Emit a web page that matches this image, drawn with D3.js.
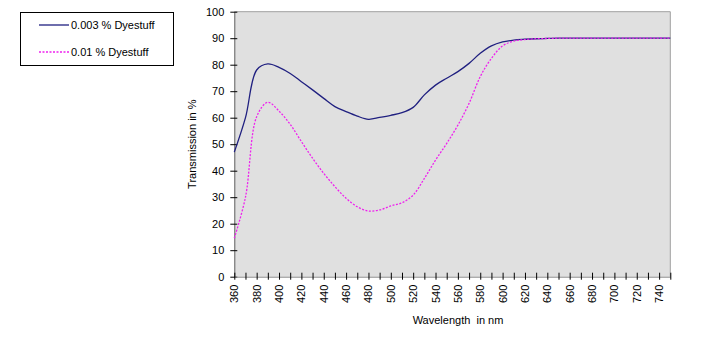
<!DOCTYPE html>
<html><head><meta charset="utf-8">
<script src="https://cdn.jsdelivr.net/npm/d3@7/dist/d3.min.js"></script>
<style>body{margin:0;background:#fff}svg{display:block;font-family:"Liberation Sans",Arial,sans-serif}</style>
</head><body><svg id="c" width="722" height="341"></svg>
<script>
const wavelengths = [360,370,380,390,400,410,420,430,440,450,460,470,480,490,500,510,520,530,540,550,560,570,580,590,600,610,620,630,640,650,660,670,680,690,700,710,720,730,740,750];
const dye003 = [47,60,78,80.3,79,76.7,73.6,70.5,67.3,64.2,62.3,60.6,59.4,60.1,60.9,61.9,63.9,68.6,72.3,74.9,77.4,80.5,84.3,87.1,88.6,89.3,89.6,89.8,89.9,90,90,90,90,90,90,90,90,90,90,90];
const dye001 = [14.5,30,60.4,65.8,62.5,57.5,51,44.7,39,34,29.6,26.4,24.8,25.2,26.7,27.9,30.8,37.1,44,50.3,57.2,65.4,75.5,82.4,87.1,88.9,89.5,89.8,89.9,90,90,90,90,90,90,90,90,90,90,90];
const seriesNames = ["0.003 % Dyestuff","0.01 % Dyestuff"];
const xTickLabels = [360,380,400,420,440,460,480,500,520,540,560,580,600,620,640,660,680,700,720,740];
const yTicks = [0,10,20,30,40,50,60,70,80,90,100];

const svg = d3.select("#c");
const L=234.3, R=670.3, T=11.7, B=276.7;
const x = d3.scaleLinear().domain([360,750]).range([L,R]);
const y = d3.scaleLinear().domain([0,100]).range([B,T]);

svg.append("rect").attr("x",L).attr("y",T).attr("width",R-L).attr("height",B-T).attr("fill","#e0e0e0");
svg.append("path").attr("d",`M${L},${T}H${R}V${B}`).attr("fill","none").attr("stroke","#a0a0a0").attr("stroke-width",1);

// y axis
const ya = svg.append("g").attr("transform",`translate(${L},0)`)
  .call(d3.axisLeft(y).tickValues(yTicks).tickSize(0).tickPadding(10).tickFormat(d3.format("d")));
ya.select(".domain").attr("stroke","#606060");
ya.selectAll("text").attr("font-size",11).attr("fill","#000").attr("font-family","Liberation Sans, Arial, sans-serif");
ya.selectAll(".tick").append("line").attr("x1",-4).attr("x2",3).attr("stroke","#000");

// x axis
const minorTicks = d3.range(360,751,10);
const xa = svg.append("g").attr("transform",`translate(0,${B})`)
  .call(d3.axisBottom(x).tickValues(minorTicks).tickSize(0).tickFormat(""));
xa.select(".domain").attr("stroke","#888");
xa.selectAll(".tick").append("line").attr("y1",-4).attr("y2",3).attr("stroke","#000");
const xl = svg.append("g");
xl.selectAll("text").data(xTickLabels).join("text")
  .attr("transform",d=>`translate(${x(d)+4},${B+8}) rotate(-90)`)
  .attr("text-anchor","end").attr("font-size",11).text(d=>d);

// titles
svg.append("text").attr("transform",`translate(196,${(T+B)/2}) rotate(-90)`)
  .attr("text-anchor","middle").attr("font-size",11).text("Transmission in %");
svg.append("text").attr("x",458).attr("y",324).attr("text-anchor","middle")
  .attr("font-size",11).attr("xml:space","preserve").style("white-space","pre").text("Wavelength  in nm");

// lines
const line = vals => d3.line().x((d,i)=>x(wavelengths[i])).y(d=>y(d)).curve(d3.curveCatmullRom.alpha(0.5))(vals);
svg.append("path").attr("d",line(dye003)).attr("fill","none").attr("stroke","#202080").attr("stroke-width",1.3);
svg.append("path").attr("d",line(dye001)).attr("fill","none").attr("stroke","#ee22ee").attr("stroke-width",1.3).attr("stroke-dasharray","2,1.5");

// legend
const lg = svg.append("g");
lg.append("rect").attr("x",20.5).attr("y",12.5).attr("width",153).attr("height",53).attr("fill","#fff").attr("stroke","#000");
const colors=["#202080","#ee22ee"], dashes=[null,"2,1.5"], ly=[25,52];
seriesNames.forEach((n,i)=>{
  lg.append("line").attr("x1",39).attr("x2",69).attr("y1",ly[i]).attr("y2",ly[i]).attr("stroke",colors[i]).attr("stroke-width",1.3).attr("stroke-dasharray",dashes[i]);
  lg.append("text").attr("x",71).attr("y",ly[i]+4).attr("font-size",11).text(n);
});
</script></body></html>
